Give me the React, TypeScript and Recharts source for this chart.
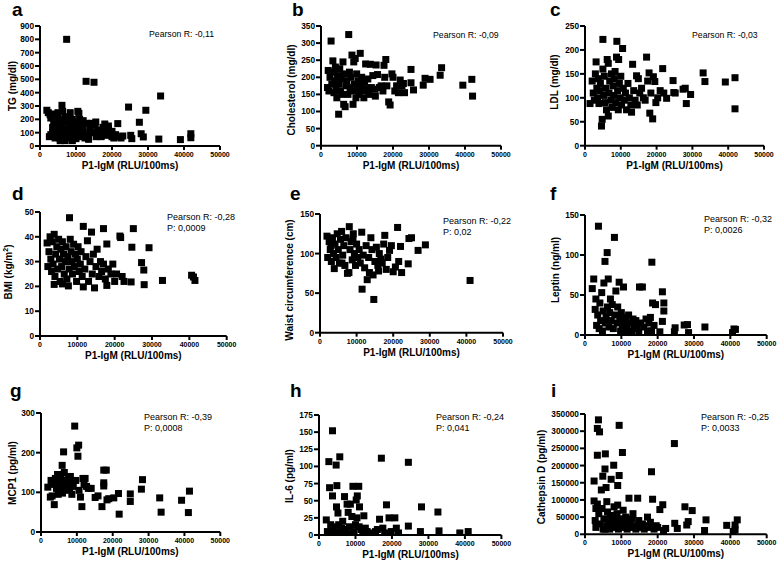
import React from 'react';
import { ScatterChart, Scatter, XAxis, YAxis } from 'recharts';

// ---------- data ----------
const xTicks = [0, 10000, 20000, 30000, 40000, 50000];
const xLabel = 'P1-IgM (RLU/100ms)';

const tgPoints = [
[1900,268],[2300,250],[2600,70],[2800,235],[3000,85],[3000,210],[3300,240],[3500,100],[3500,140],[3800,180],[4000,90],[4000,230],[4200,60],[4500,80],[4500,150],[4700,120],[5000,170],[5000,250],[5200,200],[5300,95],[5500,60],[5600,40],[5800,140],[6000,90],[6000,170],[6100,305],[6300,260],[6500,110],[6500,200],[6600,75],[6800,50],[7000,40],[7000,220],[7200,180],[7400,800],[7500,130],[7600,95],[7800,60],[8000,70],[8000,210],[8200,160],[8400,250],[8500,100],[8600,120],[8800,85],[9000,40],[9000,200],[9200,150],[9400,110],[9500,60],[9800,180],[10000,55],[10000,130],[10200,90],[10500,260],[10800,245],[11000,170],[11000,200],[11200,110],[11500,70],[11800,140],[12000,100],[12000,190],[12500,60],[12800,485],[13000,170],[13400,80],[13500,50],[13800,130],[14000,120],[14200,170],[14600,100],[15000,478],[15300,160],[15500,180],[15600,70],[16000,120],[16500,90],[17000,70],[17000,100],[17500,140],[18000,165],[18200,110],[18500,80],[19000,130],[19000,150],[19500,100],[20000,70],[20000,110],[20500,60],[21000,85],[21600,168],[22000,70],[22500,60],[23000,75],[24600,292],[25200,80],[25500,55],[27600,178],[28100,92],[28700,68],[29400,268],[33000,52],[33500,375],[39000,48],[41900,92],[41900,62]
];
const cholPoints = [
[1800,170],[2000,220],[2200,160],[2500,200],[2800,306],[3000,180],[3300,248],[3500,215],[3600,155],[3800,190],[4000,230],[4200,170],[4400,140],[4600,205],[4900,92],[5000,180],[5200,225],[5400,160],[5600,195],[5800,150],[6100,245],[6300,121],[6500,210],[6700,114],[6900,175],[7200,190],[7500,150],[7700,325],[7900,215],[8100,170],[8300,200],[8600,265],[8800,160],[8900,121],[9100,245],[9300,180],[9500,255],[9700,140],[9900,210],[10100,165],[10300,190],[10500,150],[10900,270],[11100,175],[11300,200],[11600,160],[11900,140],[12100,185],[12400,239],[12700,165],[13000,195],[13300,150],[13700,238],[14000,170],[14400,205],[15000,165],[15100,145],[15300,236],[15700,208],[16200,170],[16700,175],[17200,160],[17500,235],[17700,200],[18000,252],[18300,175],[18800,128],[19200,119],[19700,210],[20000,200],[20500,160],[21000,175],[21500,155],[22000,192],[22500,175],[22900,182],[23200,155],[25000,184],[25000,223],[25700,163],[28400,177],[28900,197],[30300,194],[33100,206],[33500,228],[39400,177],[41900,194],[42100,145]
];
const ldlPoints = [
[1400,88],[2000,135],[2300,110],[2600,95],[2900,150],[3100,175],[3300,120],[3500,100],[3700,140],[3900,88],[4100,115],[4300,130],[4600,41],[4800,55],[5000,222],[5000,160],[5200,105],[5400,145],[5600,90],[5800,120],[6000,75],[6200,180],[6500,62],[6500,172],[6700,110],[6900,135],[7200,95],[7400,150],[7600,80],[7800,125],[8000,105],[8200,140],[8400,155],[8600,90],[8800,185],[8900,218],[9100,115],[9300,75],[9400,180],[9600,130],[9800,100],[10000,145],[10200,85],[10500,203],[10700,120],[11000,95],[11300,110],[11600,75],[12000,130],[12400,100],[12800,85],[13000,70],[13300,170],[13600,115],[14000,95],[14400,146],[14600,85],[14900,140],[15300,110],[15800,120],[16300,100],[16800,95],[17200,185],[17500,135],[17900,152],[18100,68],[18400,110],[18900,56],[19100,144],[19500,134],[19800,90],[20300,100],[21000,115],[21700,161],[22000,110],[22800,99],[24600,136],[24800,111],[25200,110],[27400,118],[28000,120],[28300,88],[29500,107],[33000,152],[33500,134],[39200,133],[41900,142],[41900,77]
];
const bmiPoints = [
[1900,37.5],[2100,28],[2400,34],[2700,40],[2900,31],[3100,26],[3300,38],[3500,29],[3800,20.8],[3800,41],[4000,24],[4200,33],[4500,36],[4700,27],[5000,39],[5200,31],[5400,22],[5600,35],[5800,28],[6000,21],[6000,38],[6300,33],[6500,25],[6800,30],[7000,36],[7200,23],[7500,32],[7600,20.2],[7800,27],[7900,47.7],[8100,39],[8300,34],[8500,30],[8700,25],[9000,37],[9200,28],[9500,33],[9800,22],[10000,31],[10200,36],[10500,26],[10800,29],[11000,34],[11300,24],[11600,44.2],[11600,19.8],[12000,27],[12300,32],[12700,38.4],[13000,22],[13400,30],[13800,41.9],[14000,25],[14300,33],[14600,19.4],[15000,28],[15300,35],[15800,24],[16200,30],[16500,26],[17000,43.3],[17000,29],[17500,23],[17900,37.1],[17900,20.4],[18300,27],[19000,25],[19500,29],[20000,22],[20500,25],[21400,40.3],[21600,39.7],[22000,24],[22500,22],[24400,21.8],[24600,35.8],[25000,43.3],[27200,29.6],[27800,26.6],[27900,20.7],[29200,35.6],[32800,22.4],[40600,24.5],[41100,23.8],[41500,22.4]
];
const waistPoints = [
[1900,122],[2100,95],[2500,115],[2800,105],[3000,110],[3100,90],[3400,120],[3700,100],[3900,81],[4100,112],[4400,95],[4700,125],[5000,105],[5300,88],[5600,118],[5900,128],[6000,88],[6200,98],[6500,110],[6800,85],[7100,120],[7500,75],[7900,76],[8000,134],[8200,105],[8500,115],[8800,92],[9000,118],[9100,125],[9400,100],[9700,85],[10000,112],[10300,95],[10700,105],[11000,88],[11400,127],[11500,55],[11800,98],[12200,82],[12600,110],[12900,67],[13300,95],[13500,76],[13900,120],[14200,105],[14500,73],[14700,42],[15000,90],[15400,108],[15800,85],[16000,78],[16200,100],[16600,93],[17000,88],[17400,112],[17700,123],[18100,80],[18500,95],[19000,104],[19500,110],[20000,77],[20600,83],[21200,133],[21500,90],[22000,109],[22300,76],[24100,87],[24300,119],[25000,120],[26800,104],[28800,111],[41000,66]
];
const leptinPoints = [
[2000,58],[2400,70],[2800,32],[3000,45],[3200,12],[3500,25],[3700,136],[3900,8],[4100,40],[4300,18],[4600,53],[4800,5],[5000,30],[5200,65],[5500,92],[5600,15],[5800,22],[6100,103],[6200,35],[6400,70],[6600,10],[6800,28],[7000,45],[7200,18],[7500,38],[7800,8],[8100,122],[8200,25],[8500,55],[8800,15],[9000,35],[9400,66],[9600,20],[9800,5],[10000,28],[10300,12],[10600,60],[10800,22],[11000,3],[11300,18],[11600,10],[12000,25],[12400,15],[12800,5],[13200,20],[13600,12],[14000,18],[14400,8],[14800,3],[15000,60],[15300,15],[15800,60],[16200,10],[16800,20],[17200,5],[17600,15],[18000,22],[18300,5],[18400,91],[18600,40],[19000,12],[19400,38],[20600,4],[21300,54],[21300,17],[21700,40],[21700,30],[24600,4],[24800,9],[27300,12.5],[28200,13],[28500,3],[33000,10],[40600,3],[41000,7.5],[41400,7]
];
const mcp1Points = [
[1900,113],[2600,88],[2800,130],[3100,91],[3500,120],[3700,69],[4000,135],[4300,110],[4600,145],[4800,95],[5000,125],[5300,100],[5600,140],[5900,168],[6000,115],[6000,98],[6300,202],[6500,150],[6800,130],[7000,105],[7300,120],[7700,135],[8000,110],[8200,140],[8300,125],[8600,95],[9000,115],[9400,267],[9700,130],[10000,212],[10300,191],[10500,219],[10600,105],[11000,88],[11400,64],[11700,135],[12000,120],[12300,135],[12700,115],[13200,110],[14000,110],[15100,87],[15900,91],[17000,64],[17500,156],[17500,124],[17500,116],[18200,156],[18400,81],[18900,84],[20300,86],[21600,97],[21800,45],[24900,96],[24900,77],[28000,108],[28300,132],[33100,86],[33500,50],[39200,80],[41100,49],[41400,103]
];
const il6Points = [
[2000,22],[2300,5],[2700,107],[2900,69],[3000,3],[3200,15],[3500,8],[3700,152],[3700,57],[4000,12],[4300,3],[4700,102],[4800,41],[4900,72],[5000,3],[5200,32],[5400,15],[5700,114],[5900,5],[6200,10],[6500,20],[6800,8],[7000,56],[7300,3],[7700,45],[8000,33],[8300,12],[8600,45],[9000,27],[9000,2],[9300,71],[9600,5],[10000,15],[10200,51],[10400,25],[10500,57],[10900,71],[11000,12],[11100,41],[11500,8],[12000,3],[12300,28],[12700,10],[13200,5],[14000,3],[14800,1],[15500,5],[16000,8],[16600,23],[17100,112],[17500,10],[18000,3],[18500,44],[19200,25],[19800,5],[20800,25],[21200,10],[21800,3],[24500,13],[24500,106],[27800,5],[28100,41],[32600,33.5],[32900,6],[38600,3],[40900,5]
];
const cathPoints = [
[2500,155000],[2500,97000],[2800,40000],[3000,20000],[3000,75000],[3400,308000],[3400,230000],[3400,88000],[3700,333000],[3800,60000],[4000,298000],[4200,30000],[4500,129000],[4700,75000],[4900,169000],[5000,15000],[5200,45000],[5500,190000],[5500,15000],[5600,234000],[5800,136000],[6000,25000],[6000,95000],[6200,65000],[6500,35000],[6800,15000],[7000,55000],[7200,160000],[7500,20000],[7500,40000],[7900,201000],[8000,80000],[8200,40000],[8500,25000],[8800,60000],[9000,142000],[9000,85000],[9200,15000],[9400,317000],[9400,171000],[9600,45000],[10000,30000],[10300,238000],[10500,70000],[10800,20000],[11000,40000],[11200,50000],[11600,15000],[12100,105000],[12400,35000],[12800,20000],[13000,45000],[13200,60000],[13600,25000],[14000,15000],[14500,105000],[14800,40000],[15300,20000],[15800,30000],[16300,15000],[16800,25000],[17200,50000],[17600,20000],[18000,35000],[18300,182000],[18600,102000],[19000,15000],[19600,25000],[20000,20000],[20600,72000],[21400,86000],[21600,11000],[22200,17000],[24600,264000],[24700,32000],[25400,17000],[27500,80000],[28000,27000],[28400,37000],[29500,69000],[32900,11000],[33300,42000],[39000,26000],[40800,8000],[41300,13000],[41300,27000],[41900,42000]
];

const panelLetters = ['a', 'b', 'c', 'd', 'e', 'f', 'g', 'h', 'i'];
const yTitles = ['TG (mg/dl)', 'Cholesterol (mg/dl)', 'LDL (mg/dl)', 'BMI (kg/m²)', 'Waist circumference (cm)', 'Leptin (ng/ml)', 'MCP1 (pg/ml)', 'IL-6 (pg/ml)', 'Cathepsin D (pg/ml)'];
const pearsonR = ['-0,11', '-0,09', '-0,03', '-0,28', '-0,22', '-0,32', '-0,39', '-0,24', '-0,25'];
const pValues = [null, null, null, '0,0009', '0,02', '0,0026', '0,0008', '0,041', '0,0033'];
const yMaxes = [900, 350, 250, 50, 150, 150, 300, 175, 350000];
const ySteps = [100, 50, 50, 10, 50, 50, 100, 25, 50000];
const pointSets = [tgPoints, cholPoints, ldlPoints, bmiPoints, waistPoints, leptinPoints, mcp1Points, il6Points, cathPoints];

// ---------- layout ----------
const plots = [
  { x0: 40, y0: 25.7, x1: 220, y1: 145.7, lx: 12, ly: 0, tx: 13, ty: 86, px: 149, py: 29 },
  { x0: 321, y0: 26, x1: 501, y1: 145.7, lx: 292, ly: 0, tx: 292, ty: 90, px: 433, py: 30 },
  { x0: 585, y0: 26, x1: 764, y1: 145.7, lx: 550, ly: 0, tx: 555, ty: 82, px: 692, py: 30 },
  { x0: 40, y0: 211.7, x1: 226.7, y1: 335.7, lx: 12, ly: 184, tx: 9, ty: 272, px: 167, py: 212 },
  { x0: 320, y0: 214, x1: 503, y1: 332.7, lx: 290, ly: 184, tx: 290, ty: 280, px: 443, py: 216 },
  { x0: 585, y0: 215, x1: 766.7, y1: 335, lx: 550, ly: 184, tx: 556, ty: 270, px: 704, py: 214 },
  { x0: 40.7, y0: 412.7, x1: 220, y1: 531.7, lx: 10, ly: 381, tx: 13, ty: 473, px: 144, py: 412 },
  { x0: 319.3, y0: 415, x1: 501.7, y1: 535, lx: 290, ly: 381, tx: 290, ty: 476, px: 436, py: 412 },
  { x0: 585, y0: 414, x1: 766.7, y1: 534.3, lx: 551, ly: 381, tx: 542, ty: 477, px: 701, py: 412 },
];

const FONT = '"Liberation Sans", Arial, sans-serif';
const xTickStyle = { fill: '#000', fontSize: 7, fontWeight: 700, fontFamily: FONT };
const yTickStyle = { fill: '#000', fontSize: 8.3, fontWeight: 700, fontFamily: FONT };
const lineStyle = { stroke: '#000', strokeWidth: 2 };

const Square = (props: any) => {
  if (props.cx == null || props.cy == null) return null;
  return <rect x={props.cx - 3.5} y={props.cy - 3.5} width={7} height={7} fill="#000" />;
};

function Panel({ idx }: { idx: number }) {
  const p = plots[idx];
  const yW = 60, mTop = 10, mRight = 16, xH = 30;
  const w = p.x1 - p.x0 + yW + mRight;
  const h = p.y1 - p.y0 + mTop + xH;
  const yMax = yMaxes[idx];
  const yTicks: number[] = [];
  for (let v = 0; v <= yMax + 1e-9; v += ySteps[idx]) yTicks.push(v);
  const data = pointSets[idx].map(([x, y]) => ({ x, y }));
  return (
    <div style={{ position: 'absolute', left: p.x0 - yW, top: p.y0 - mTop }}>
      <ScatterChart width={w} height={h} margin={{ top: mTop, right: mRight, bottom: 0, left: 0 }}>
        <XAxis type="number" dataKey="x" domain={[0, 50000]} ticks={xTicks} interval={0}
          tick={xTickStyle} tickSize={4} tickMargin={2} axisLine={lineStyle} tickLine={lineStyle}
          height={xH} allowDataOverflow />
        <YAxis type="number" dataKey="y" domain={[0, yMax]} ticks={yTicks} interval={0}
          tick={yTickStyle} tickSize={5} tickMargin={1} axisLine={lineStyle} tickLine={lineStyle}
          width={yW} allowDataOverflow />
        <Scatter data={data} isAnimationActive={false} shape={Square} />
      </ScatterChart>
    </div>
  );
}

function Texts({ idx }: { idx: number }) {
  const p = plots[idx];
  const title = yTitles[idx];
  const isBmi = title.startsWith('BMI');
  return (
    <>
      <div style={{ position: 'absolute', left: p.lx, top: p.ly, fontSize: 19, fontWeight: 700, lineHeight: '19px' }}>
        {panelLetters[idx]}
      </div>
      <div style={{ position: 'absolute', left: p.tx, top: p.ty, transform: 'translate(-50%,-50%) rotate(-90deg)', whiteSpace: 'nowrap', fontSize: 10, fontWeight: 700, lineHeight: '12px' }}>
        {isBmi ? <>BMI (kg/m<sup style={{ fontSize: 7, lineHeight: 0 }}>2</sup>)</> : title}
      </div>
      <div style={{ position: 'absolute', left: (p.x0 + p.x1) / 2, top: p.y1 + 14, transform: 'translateX(-50%)', whiteSpace: 'nowrap', fontSize: 10, fontWeight: 700, lineHeight: '12px' }}>
        {xLabel}
      </div>
      <div style={{ position: 'absolute', left: p.px, top: p.py, whiteSpace: 'nowrap', fontSize: idx < 3 ? 8.7 : 9, lineHeight: '11px' }}>
        <div>Pearson R: {pearsonR[idx]}</div>
        {pValues[idx] && <div>P: {pValues[idx]}</div>}
      </div>
    </>
  );
}

export default function App() {
  return (
    <div style={{ position: 'absolute', left: 0, top: 0, width: 778, height: 564, overflow: 'hidden', background: '#fff', fontFamily: FONT, color: '#000' }}>
      {plots.map((_, i) => <Panel key={'p' + i} idx={i} />)}
      {plots.map((_, i) => <Texts key={'t' + i} idx={i} />)}
    </div>
  );
}
